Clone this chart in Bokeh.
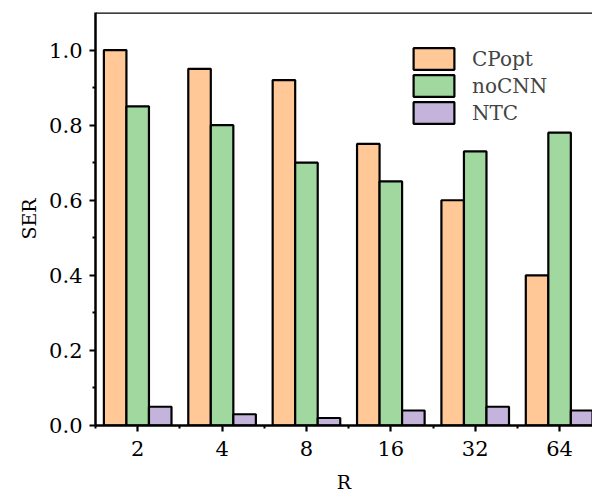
from bokeh.plotting import figure
from bokeh.models import ColumnDataSource, FixedTicker, Range1d, Span, Legend, LegendItem
from bokeh.transform import dodge
from bokeh.embed import file_html
from bokeh.resources import INLINE

categories = ["2", "4", "8", "16", "32", "64"]
cpopt = [1.0, 0.95, 0.92, 0.75, 0.60, 0.40]
nocnn = [0.85, 0.80, 0.70, 0.65, 0.73, 0.78]
ntc = [0.05, 0.03, 0.02, 0.04, 0.05, 0.04]
series_names = ["CPopt", "noCNN", "NTC"]
colors = ["#FFC896", "#A0D8A0", "#C4B4DC"]

idx = list(range(len(categories)))
src = ColumnDataSource(dict(x=idx, cpopt=cpopt, nocnn=nocnn, ntc=ntc))

FONT = "DejaVu Serif"

p = figure(width=592, height=495, output_backend="svg", toolbar_location=None,
           x_range=Range1d(-0.5, 5.39), y_range=Range1d(0, 1.1),
           min_border_left=95, min_border_top=12, min_border_right=0, min_border_bottom=0)
p.outline_line_color = None
p.grid.grid_line_color = None

bw = 0.267
renderers = []
for i, (col, name, c) in enumerate(zip(["cpopt", "nocnn", "ntc"], series_names, colors)):
    r = p.vbar(x=dodge("x", (i - 1) * bw, range=p.x_range), top=col, width=bw, bottom=0,
               source=src, fill_color=c, line_color="black", line_width=2.2)
    renderers.append(r)

# top border
p.add_layout(Span(location=1.1, dimension="width", line_color="black", line_width=2.5))

xa = p.xaxis[0]
xa.ticker = FixedTicker(ticks=idx, minor_ticks=[i + 0.5 for i in range(-1, len(categories))])
xa.major_label_overrides = {i: c for i, c in zip(idx, categories)}
xa.axis_label = "R"
ya = p.yaxis[0]
ya.ticker = FixedTicker(ticks=[0, 0.2, 0.4, 0.6, 0.8, 1.0],
                        minor_ticks=[0.1, 0.3, 0.5, 0.7, 0.9])
ya.major_label_overrides = {0: "0.0", 0.2: "0.2", 0.4: "0.4", 0.6: "0.6", 0.8: "0.8", 1.0: "1.0"}
ya.axis_label = "SER"

for ax in (xa, ya):
    ax.axis_line_width = 2.5
    ax.axis_line_color = "black"
    ax.major_tick_in = 0
    ax.major_tick_out = 6
    ax.minor_tick_in = 0
    ax.minor_tick_out = 3
    ax.major_tick_line_width = 2.2
    ax.minor_tick_line_width = 2
    ax.major_tick_line_color = "black"
    ax.minor_tick_line_color = "black"
    ax.major_label_text_font = FONT
    ax.major_label_text_font_size = "21px"
    ax.major_label_text_color = "black"
    ax.axis_label_text_font = FONT
    ax.axis_label_text_font_size = "19px"
    ax.axis_label_text_font_style = "normal"
    ax.axis_label_text_color = "black"

xa.major_label_standoff = 9
xa.axis_label_standoff = 12
ya.major_label_standoff = 7
ya.axis_label_standoff = 6

legend = Legend(items=[LegendItem(label=n, renderers=[r]) for n, r in zip(series_names, renderers)],
                location=(313, 299), glyph_width=51, glyph_height=27, spacing=0,
                padding=0, margin=0, label_standoff=13, border_line_color=None,
                background_fill_alpha=0, label_text_font=FONT, label_text_font_size="20px",
                label_height=27)
p.add_layout(legend)

open("out.html", "w").write(file_html(p, INLINE))
